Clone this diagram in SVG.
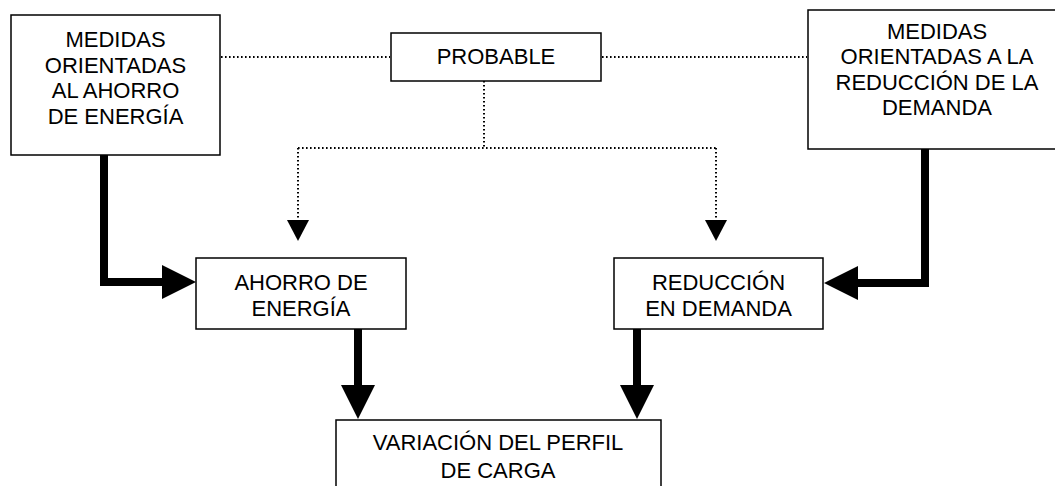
<svg xmlns="http://www.w3.org/2000/svg" width="1055" height="486" viewBox="0 0 1055 486">
<defs>
<style>
.box{fill:#fff;stroke:#000;stroke-width:1.5}
.t{font-family:"Liberation Sans",Arial,sans-serif;font-size:22px;fill:#000;text-anchor:middle}
.dot{fill:none;stroke:#000;stroke-width:2;stroke-dasharray:1.6 2.4}
.thick{fill:none;stroke:#000;stroke-width:8}
.head{fill:#000;stroke:none}
</style>
</defs>
<rect width="1055" height="486" fill="#fff"/>
<g id="connectors">
<path class="dot" d="M221 57 H390"/>
<path class="dot" d="M602 57 H807"/>
<path class="dot" d="M484 81 V148"/>
<path class="dot" d="M298 148 H716"/>
<path class="dot" d="M298 148 V221"/>
<path class="dot" d="M716 148 V221"/>
<polygon class="head" points="287,220 309,220 298,241"/>
<polygon class="head" points="705,220 727,220 716,241"/>
<path class="thick" d="M104 155 V282 H163"/>
<polygon class="head" points="162,265 196,282 162,299"/>
<path class="thick" d="M925 149 V283 H856"/>
<polygon class="head" points="858,266 824,283 858,300"/>
<path class="thick" d="M358 329 V386"/>
<polygon class="head" points="341,385 375,385 358,419"/>
<path class="thick" d="M637 329 V386"/>
<polygon class="head" points="620,385 654,385 637,419"/>
</g>
<g id="n-medidas-ahorro">
<rect class="box" x="11" y="15" width="209" height="140"/>
<text class="t" x="115.5" y="47">MEDIDAS</text>
<text class="t" x="115.5" y="72.5">ORIENTADAS</text>
<text class="t" x="115.5" y="98">AL AHORRO</text>
<text class="t" x="115.5" y="124">DE ENERGÍA</text>
</g>
<g id="n-probable">
<rect class="box" x="391" y="33" width="210" height="48"/>
<text class="t" x="496" y="63.5">PROBABLE</text>
</g>
<g id="n-medidas-demanda">
<rect class="box" x="808" y="10" width="258" height="139"/>
<text class="t" x="937" y="38.5">MEDIDAS</text>
<text class="t" x="937" y="64">ORIENTADAS A LA</text>
<text class="t" x="937" y="89.5">REDUCCIÓN DE LA</text>
<text class="t" x="937" y="115">DEMANDA</text>
</g>
<g id="n-ahorro">
<rect class="box" x="196" y="258" width="210" height="71"/>
<text class="t" x="301" y="290">AHORRO DE</text>
<text class="t" x="301" y="316">ENERGÍA</text>
</g>
<g id="n-reduccion">
<rect class="box" x="614" y="258" width="209" height="71"/>
<text class="t" x="718.5" y="290">REDUCCIÓN</text>
<text class="t" x="718.5" y="316">EN DEMANDA</text>
</g>
<g id="n-variacion">
<rect class="box" x="336" y="420" width="325" height="80"/>
<text class="t" x="498" y="449.5">VARIACIÓN DEL PERFIL</text>
<text class="t" x="498" y="477.5">DE CARGA</text>
</g>
</svg>
